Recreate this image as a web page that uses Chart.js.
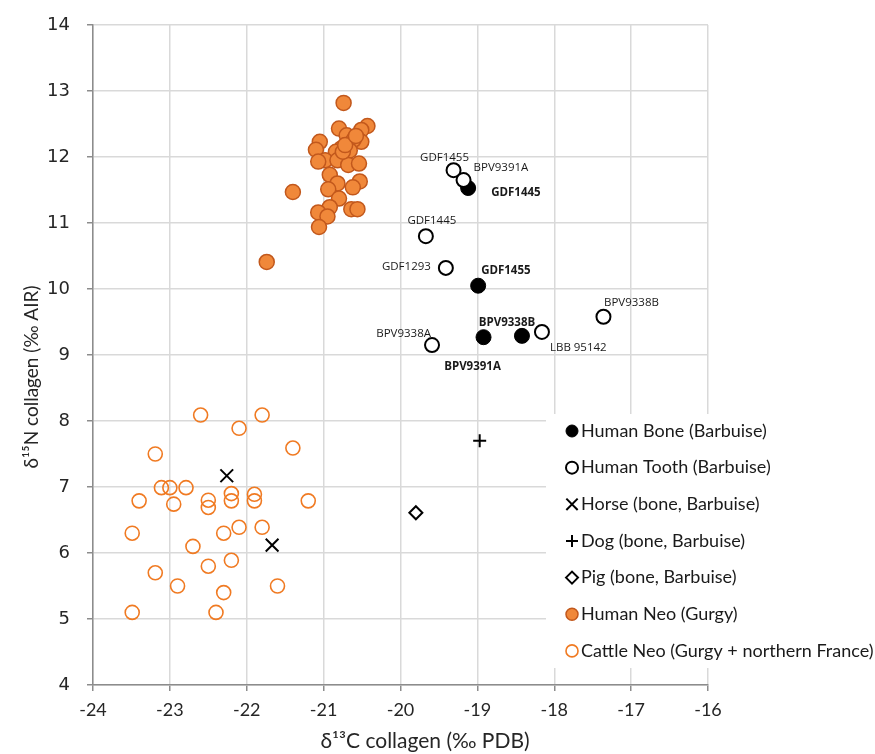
<!DOCTYPE html>
<html><head><meta charset="utf-8">
<script src="https://cdn.jsdelivr.net/npm/chart.js@4.4.1/dist/chart.umd.min.js"></script>
<style>html,body{margin:0;padding:0;background:#fff}#wrap{width:875px;height:754px}</style>
</head><body><div id="wrap"><canvas id="c" width="875" height="754"></canvas></div>
<script>
// ---- data ----
const boneX = [-19.12, -18.99, -18.92, -18.42];
const boneY = [11.53, 10.05, 9.27, 9.29];
const boneLabels = ['GDF1445', 'GDF1455', 'BPV9391A', 'BPV9338B'];

const toothX = [-19.31, -19.18, -19.67, -19.41, -19.59, -18.16, -17.36];
const toothY = [11.80, 11.65, 10.80, 10.32, 9.15, 9.35, 9.58];
const toothLabels = ['GDF1455', 'BPV9391A', 'GDF1445', 'GDF1293', 'BPV9338A', 'LBB 95142', 'BPV9338B'];

const horseX = [-22.26, -21.67];
const horseY = [7.17, 6.12];
const dogX = [-18.97];
const dogY = [7.70];
const pigX = [-19.80];
const pigY = [6.61];

const neoX = [-20.74, -20.80, -20.43, -20.51, -20.70, -20.51, -20.61, -21.05, -21.10, -20.77,
              -20.66, -20.84, -20.98, -21.07, -20.82, -20.68, -20.54, -20.92, -20.82, -20.53,
              -20.62, -20.94, -21.40, -20.80, -20.92, -21.07, -20.64, -20.56, -20.95, -21.06,
              -21.74, -20.75, -20.72, -20.58];
const neoY = [12.82, 12.43, 12.47, 12.41, 12.33, 12.23, 12.26, 12.23, 12.11, 12.13,
              12.10, 12.08, 11.95, 11.93, 11.95, 11.88, 11.90, 11.73, 11.60, 11.63,
              11.54, 11.51, 11.47, 11.37, 11.24, 11.16, 11.21, 11.21, 11.10, 10.94,
              10.41, 12.08, 12.18, 12.32];

const cattleX = [-22.60, -21.80, -22.10, -23.19, -21.40, -23.11, -23.00, -22.79, -23.40, -22.95,
                 -22.50, -22.50, -22.20, -22.20, -21.90, -21.90, -21.20, -22.10, -21.80, -22.30,
                 -23.49, -22.70, -22.20, -22.50, -23.19, -22.90, -21.60, -22.30, -23.49, -22.40];
const cattleY = [8.09, 8.09, 7.89, 7.50, 7.59, 6.99, 6.99, 6.99, 6.79, 6.74,
                 6.80, 6.69, 6.90, 6.79, 6.89, 6.79, 6.79, 6.39, 6.39, 6.30,
                 6.30, 6.10, 5.89, 5.80, 5.70, 5.50, 5.50, 5.40, 5.10, 5.10];

const xTitle = 'δ¹³C collagen (‰ PDB)';
const yTitle = 'δ¹⁵N collagen (‰ AIR)';

const pts = (xs, ys) => xs.map((x, i) => ({x: x, y: ys[i]}));

// ---- label placement (styling) ----
const toothPlace = [[-9,-12,'center'],[10,-12,'left'],[6,-15,'center'],[-15,-1,'right'],[-1,-11,'right'],[8,16,'left'],[28,-14,'center']];
const bonePlace = [[23,5,'left'],[3,-15,'left'],[-11,30,'center'],[-15,-13,'center']];

const ORANGE = '#F07A22';
const datasets = [
  {label:'Human Bone (Barbuise)', data: pts(boneX, boneY), pointStyle:'circle', pointRadius:7.5,
   backgroundColor:'#000', borderColor:'#000', borderWidth:1, order:1, _labels: boneLabels, _place: bonePlace, _bold:true},
  {label:'Human Tooth (Barbuise)', data: pts(toothX, toothY), pointStyle:'circle', pointRadius:7,
   backgroundColor:'#fff', borderColor:'#000', borderWidth:2, order:0, _labels: toothLabels, _place: toothPlace, _bold:false},
  {label:'Horse (bone, Barbuise)', data: pts(horseX, horseY), pointStyle:'crossRot', pointRadius:9,
   backgroundColor:'#000', borderColor:'#000', borderWidth:2, order:0},
  {label:'Dog (bone, Barbuise)', data: pts(dogX, dogY), pointStyle:'cross', pointRadius:6.5,
   backgroundColor:'#000', borderColor:'#000', borderWidth:2, order:0},
  {label:'Pig (bone, Barbuise)', data: pts(pigX, pigY), pointStyle:'rectRot', pointRadius:6.5,
   backgroundColor:'#fff', borderColor:'#000', borderWidth:2, order:0},
  {label:'Human Neo (Gurgy)', data: pts(neoX, neoY), pointStyle:'circle', pointRadius:7.5,
   backgroundColor:'#F0883A', borderColor:'#C2581C', borderWidth:1.5, order:0},
  {label:'Cattle Neo (Gurgy + northern France)', data: pts(cattleX, cattleY), pointStyle:'circle', pointRadius:7,
   backgroundColor:'rgba(255,255,255,0)', borderColor:ORANGE, borderWidth:1.6, order:0}
];

const overlay = {
  id: 'overlay',
  afterDatasetsDraw(chart) {
    const ctx = chart.ctx;
    chart.data.datasets.forEach((ds, di) => {
      if (!ds._labels) return;
      const meta = chart.getDatasetMeta(di);
      ctx.save();
      ctx.fillStyle = '#1a1a1a';
      ctx.textBaseline = 'middle';
      ctx.font = (ds._bold ? 'bold ' : '') + '11.5px "Open Sans", sans-serif';
      meta.data.forEach((el, i) => {
        const p = ds._place[i];
        ctx.textAlign = p[2];
        ctx.fillText(ds._labels[i], el.x + p[0], el.y + p[1]);
      });
      ctx.restore();
    });
  },
  afterDraw(chart) {
    const ctx = chart.ctx;
    ctx.save();
    // axis titles
    ctx.fillStyle = '#262626';
    ctx.textAlign = 'center';
    ctx.textBaseline = 'middle';
    ctx.font = '21px Lato, sans-serif';
    ctx.fillText(xTitle, 425, 741);
    ctx.font = '19px Lato, sans-serif';
    ctx.translate(32, 377);
    ctx.rotate(-Math.PI / 2);
    ctx.fillText(yTitle, 0, 0);
    ctx.restore();

    // legend
    ctx.save();
    ctx.fillStyle = '#fff';
    ctx.fillRect(546, 414, 329, 254);
    const y0 = 431, step = 36.65;
    chart.data.datasets.forEach((ds, i) => {
      const y = y0 + i * step;
      ctx.save();
      ctx.fillStyle = ds.backgroundColor;
      ctx.strokeStyle = ds.borderColor;
      ctx.lineWidth = ds.borderWidth;
      const r = ds.pointStyle === 'crossRot' ? 8 : 6;
      Chart.helpers.drawPoint(ctx, {pointStyle: ds.pointStyle, radius: r, rotation: 0, borderWidth: ds.borderWidth}, 572, y);
      ctx.restore();
      ctx.fillStyle = '#1a1a1a';
      ctx.font = '18px Lato, sans-serif';
      ctx.textAlign = 'left';
      ctx.textBaseline = 'middle';
      ctx.fillText(ds.label, 581, y);
    });
    ctx.restore();
  }
};

new Chart(document.getElementById('c'), {
  type: 'scatter',
  data: { datasets: datasets },
  options: {
    responsive: false,
    animation: false,
    events: [],
    layout: { padding: { left: 0, top: 25, right: 167, bottom: 0 } },
    plugins: { legend: { display: false }, tooltip: { enabled: false } },
    scales: {
      x: {
        type: 'linear', min: -24, max: -16,
        ticks: { stepSize: 1, color: '#262626', font: { family: 'Lato', size: 18 }, padding: 8 },
        grid: { color: '#d9d9d9', lineWidth: 1.5, tickColor: '#8c8c8c', tickLength: 6, tickWidth: 1.5 },
        border: { color: '#8c8c8c', width: 1.5 },
        afterFit(s) { s.height = 69; s.paddingLeft = 0; s.paddingRight = 0; }
      },
      y: {
        type: 'linear', min: 4, max: 14,
        ticks: { stepSize: 1, color: '#262626', font: { family: 'DejaVu Sans', size: 18 }, padding: 17 },
        grid: { color: '#d9d9d9', lineWidth: 1.5, tickColor: '#8c8c8c', tickLength: 6, tickWidth: 1.5 },
        border: { color: '#8c8c8c', width: 1.5 },
        afterFit(s) { s.width = 93; s.paddingTop = 0; s.paddingBottom = 0; }
      }
    }
  },
  plugins: [overlay]
});
</script>
</body></html>
